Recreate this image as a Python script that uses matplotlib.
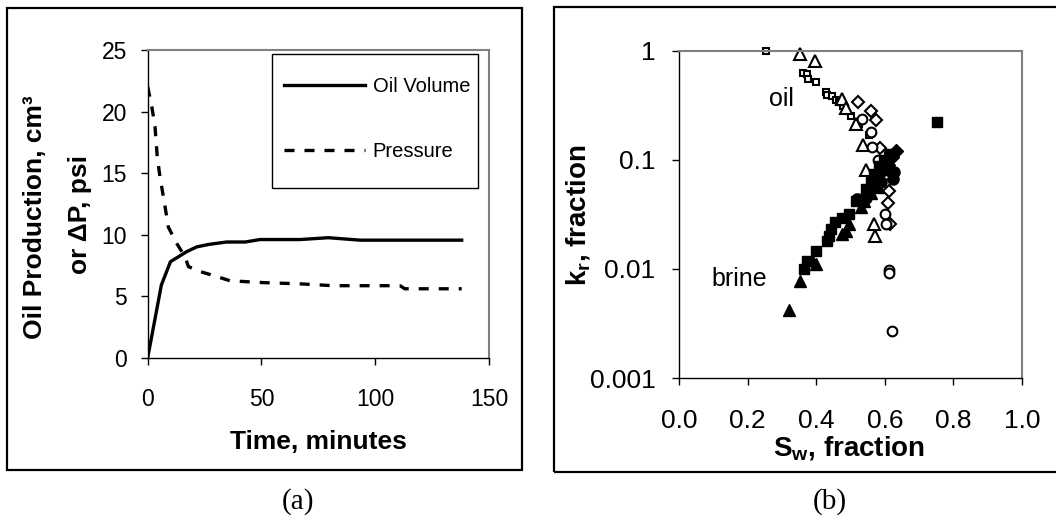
import matplotlib
matplotlib.use("Agg")
import matplotlib.pyplot as plt
from matplotlib.patches import Rectangle
from matplotlib.ticker import FixedLocator, NullLocator

plt.rcParams['font.family'] = ['Liberation Sans', 'DejaVu Sans']
plt.rcParams['mathtext.fontset'] = 'custom'
plt.rcParams['mathtext.rm'] = 'Liberation Sans'
plt.rcParams['mathtext.it'] = 'Liberation Sans'
plt.rcParams['mathtext.bf'] = 'Liberation Sans:bold'

# ---------------- Panel (a) data ----------------
oil_time = [0, 6, 10, 17, 21.5, 26.7, 34.7, 42.8, 49.4, 67, 79.4, 93.3, 138]
oil_volume = [0, 5.9, 7.8, 8.6, 9.0, 9.2, 9.4, 9.4, 9.6, 9.6, 9.75, 9.55, 9.55]

p_time = [0, 1.8, 3.2, 4.2, 5.4, 7.6, 9.1, 12.7, 16.4, 17.9, 23, 30.3, 36.2,
          50.8, 67, 81.6, 96.2, 110.9, 113, 138]
pressure = [22, 20.4, 18.8, 16.3, 14.7, 12.3, 10.6, 9.3, 8.2, 7.4, 7.0, 6.6, 6.25,
            6.1, 6.0, 5.85, 5.85, 5.85, 5.6, 5.6]

a_xticks = [0, 50, 100, 150]
a_yticks = [0, 5, 10, 15, 20, 25]

# ---------------- Panel (b) data ----------------
sq_open_sw = [0.253, 0.362, 0.374, 0.376, 0.398, 0.43, 0.432, 0.447, 0.457, 0.466,
              0.478, 0.486, 0.50, 0.525, 0.554]
sq_open_kr = [0.985, 0.62, 0.61, 0.55, 0.52, 0.42, 0.39, 0.38, 0.35, 0.34,
              0.31, 0.28, 0.25, 0.21, 0.17]

tri_open_sw = [0.354, 0.396, 0.476, 0.486, 0.515, 0.535, 0.545, 0.569, 0.572]
tri_open_kr = [0.93, 0.80, 0.36, 0.30, 0.21, 0.137, 0.08, 0.026, 0.020]

dia_open_sw = [0.523, 0.559, 0.574, 0.586, 0.603, 0.613, 0.608, 0.616]
dia_open_kr = [0.34, 0.28, 0.23, 0.127, 0.072, 0.052, 0.04, 0.026]

cir_open_sw = [0.533, 0.559, 0.564, 0.579, 0.60, 0.603, 0.611, 0.611, 0.62]
cir_open_kr = [0.236, 0.18, 0.13, 0.10, 0.032, 0.026, 0.0097, 0.0091, 0.0027]

sq_fill_sw = [0.364, 0.374, 0.398, 0.432, 0.437, 0.444, 0.454, 0.476, 0.496, 0.515,
              0.525, 0.544, 0.559, 0.569, 0.583, 0.598, 0.613, 0.752]
sq_fill_kr = [0.0100, 0.0118, 0.0146, 0.018, 0.020, 0.023, 0.027, 0.029, 0.032, 0.042,
              0.044, 0.054, 0.062, 0.074, 0.088, 0.10, 0.113, 0.22]

tri_fill_sw = [0.32, 0.354, 0.388, 0.398, 0.476, 0.486, 0.496, 0.53, 0.54, 0.559, 0.579]
tri_fill_kr = [0.0042, 0.0078, 0.012, 0.011, 0.021, 0.022, 0.026, 0.037, 0.042, 0.05, 0.056]

dia_fill_sw = [0.632, 0.622, 0.608, 0.593, 0.578, 0.569]
dia_fill_kr = [0.12, 0.106, 0.09, 0.079, 0.069, 0.06]

cir_fill_sw = [0.52, 0.544, 0.559, 0.569, 0.583, 0.608, 0.627, 0.625, 0.588]
cir_fill_kr = [0.044, 0.045, 0.057, 0.064, 0.074, 0.08, 0.077, 0.067, 0.062]

b_xticks = [0.0, 0.2, 0.4, 0.6, 0.8, 1.0]
b_yticks = [0.001, 0.01, 0.1, 1]
b_yticklabels = ["0.001", "0.01", "0.1", "1"]

# ---------------- Figure ----------------
W, H = 1056, 521
fig = plt.figure(figsize=(W / 100, H / 100), dpi=100)


def px_rect(x0, y0, x1, y1):
    return [x0 / W, 1 - y1 / H, (x1 - x0) / W, (y1 - y0) / H]


def style_axes(ax):
    for s in ['top', 'right']:
        ax.spines[s].set_color('#808080')
        ax.spines[s].set_linewidth(1.5)
    for s in ['left', 'bottom']:
        ax.spines[s].set_color('black')
        ax.spines[s].set_linewidth(1.0)


# Outer frames
fig.patches.append(Rectangle((7 / W, 1 - 470 / H), (522 - 7) / W, (470 - 8) / H,
                             transform=fig.transFigure, fill=False,
                             edgecolor='black', linewidth=1.6))
fig.patches.append(Rectangle((554 / W, 1 - 472 / H), (1070 - 554) / W, (472 - 7) / H,
                             transform=fig.transFigure, fill=False,
                             edgecolor='black', linewidth=1.6, clip_on=False))

# ---- Panel (a)
axa = fig.add_axes(px_rect(147.7, 50, 489, 357.7))
style_axes(axa)
axa.plot(oil_time, oil_volume, color='black', lw=2.4, label='Oil Volume',
         solid_joinstyle='round')
axa.plot(p_time, pressure, color='black', lw=2.4, linestyle=(0, (3.0, 3.0)),
         label='Pressure')
axa.set_xlim(0, 150)
axa.set_ylim(0, 25)
axa.set_xticks(a_xticks)
axa.set_yticks(a_yticks)
axa.tick_params(axis='x', direction='out', length=5, width=1, labelsize=16.5, pad=17)
axa.tick_params(axis='y', direction='out', length=5, width=1, labelsize=16.5, pad=10)

# legend box (drawn separately) and frameless legend entries inside it
legbox = Rectangle((272 / W, 1 - 188 / H), (478 - 272) / W, (188 - 54) / H,
                   transform=fig.transFigure, fill=True, facecolor='white',
                   edgecolor='black', linewidth=1.0, zorder=4, clip_on=False)
axa.add_artist(legbox)
leg = axa.legend(loc='upper left',
                 bbox_to_anchor=(284 / W, 1 - 77 / H),
                 bbox_transform=fig.transFigure,
                 fontsize=14.5, frameon=False,
                 labelspacing=2.3, borderpad=0, handlelength=4.0, handletextpad=0.4,
                 borderaxespad=0)
leg.set_zorder(6)

fig.text(35 / W, 1 - 217 / H, 'Oil Production, cm\u00b3', rotation=90,
         ha='center', va='center', fontsize=19, fontweight='bold')
fig.text(80 / W, 1 - 214 / H, 'or \u0394P, psi', rotation=90,
         ha='center', va='center', fontsize=19, fontweight='bold')
fig.text(318.5 / W, 1 - 442 / H, 'Time, minutes', ha='center', va='center',
         fontsize=19, fontweight='bold')
fig.text(298 / W, 1 - 502 / H, '(a)', ha='center', va='center', fontsize=21,
         family='Liberation Serif')

# ---- Panel (b)
axb = fig.add_axes(px_rect(679, 50.5, 1022, 378))
style_axes(axb)
axb.set_yscale('log')
axb.set_xlim(0, 1.0)
axb.set_ylim(0.001, 1)

open_kw = dict(linestyle='none', markerfacecolor='white', markeredgecolor='black',
               markeredgewidth=1.5, clip_on=False)
fill_kw = dict(linestyle='none', markerfacecolor='black', markeredgecolor='black',
               markeredgewidth=1.0, clip_on=False)

axb.plot(sq_open_sw, sq_open_kr, marker='s', markersize=5, **open_kw)
axb.plot(tri_open_sw, tri_open_kr, marker='^', markersize=9, **open_kw)
axb.plot(dia_open_sw, dia_open_kr, marker='D', markersize=6.5, **open_kw)
axb.plot(cir_open_sw, cir_open_kr, marker='o', markersize=7, **open_kw)
axb.plot(sq_fill_sw, sq_fill_kr, marker='s', markersize=6.5, **fill_kw)
axb.plot(tri_fill_sw, tri_fill_kr, marker='^', markersize=9, **fill_kw)
axb.plot(dia_fill_sw, dia_fill_kr, marker='D', markersize=7, **fill_kw)
axb.plot(cir_fill_sw, cir_fill_kr, marker='o', markersize=8, **fill_kw)

axb.yaxis.set_major_locator(FixedLocator(b_yticks))
axb.yaxis.set_minor_locator(NullLocator())
axb.set_yticklabels(b_yticklabels)
axb.set_xticks(b_xticks)
axb.set_xticklabels([f"{v:.1f}" for v in b_xticks])
axb.tick_params(axis='x', direction='out', length=5, width=1, labelsize=19, pad=17)
axb.tick_params(axis='y', direction='out', length=5, width=1, labelsize=19, pad=12)

axb.text(0.298, 0.36, 'oil', ha='center', va='center', fontsize=18)
axb.text(0.176, 0.0081, 'brine', ha='center', va='center', fontsize=18)

fig.text(849 / W, 1 - 448 / H, r'$\mathbf{S_w}$, fraction', ha='center', va='center',
         fontsize=20, fontweight='bold')
fig.text(578 / W, 1 - 215 / H, r'$\mathbf{k_r}$, fraction', rotation=90,
         ha='center', va='center', fontsize=20, fontweight='bold')
fig.text(830 / W, 1 - 502 / H, '(b)', ha='center', va='center', fontsize=21,
         family='Liberation Serif')

fig.savefig('out.png', dpi=100)
